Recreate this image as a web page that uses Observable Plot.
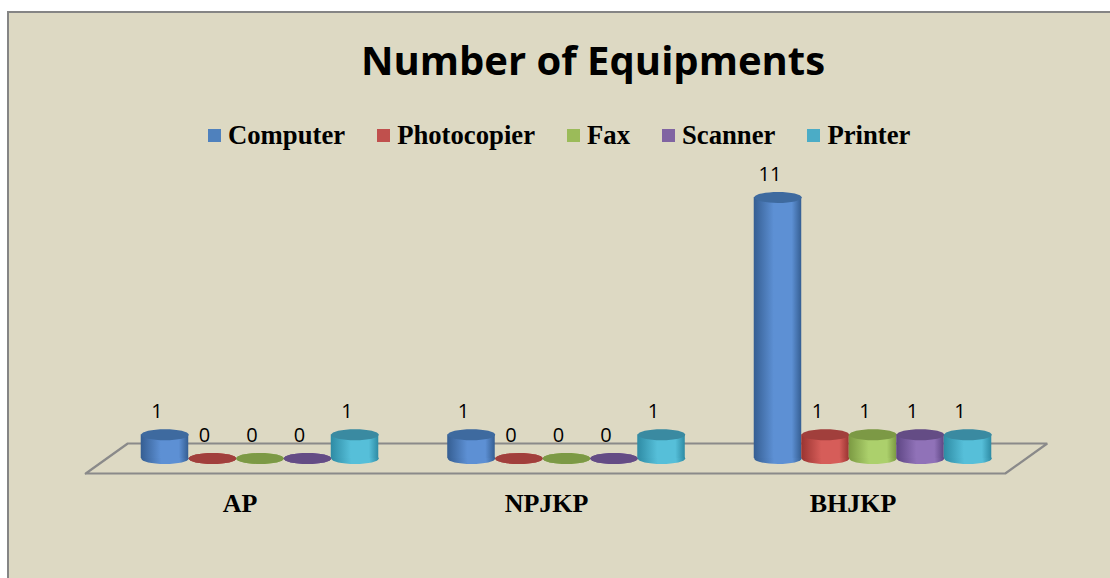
<!DOCTYPE html>
<html><head><meta charset="utf-8">
<script src="https://cdn.jsdelivr.net/npm/d3@7"></script>
<script src="https://cdn.jsdelivr.net/npm/@observablehq/plot@0.6"></script>
<style>
html,body{margin:0;padding:0;background:#fff;}
#wrap{position:absolute;left:7px;top:11px;width:1103px;height:567px;box-sizing:border-box;background:#DDD9C3;border-left:2px solid #858585;border-top:2px solid #858585;overflow:hidden;}
#title{position:absolute;left:67px;right:0;top:27px;text-align:center;font:bold 40px/1 "Open Sans",sans-serif;color:#000;white-space:nowrap;}
#legend{position:absolute;left:199px;top:109px;display:flex;gap:32px;font:bold 26.7px/1 "Liberation Serif",serif;color:#000;white-space:nowrap;}
.item{display:flex;align-items:center;}
.sw{width:13px;height:13px;margin-right:7px;}
#chart{position:absolute;left:0;top:147px;}
#chart svg{overflow:visible;}
</style></head>
<body><div id="wrap"><div id="title">Number of Equipments</div><div id="legend"></div><div id="chart"></div></div>
<script>
// ---- data ----
const categories = ["AP", "NPJKP", "BHJKP"];
const series = ["Computer", "Photocopier", "Fax", "Scanner", "Printer"];
const computer = [1, 1, 11];
const photocopier = [0, 0, 1];
const fax = [0, 0, 1];
const scanner = [0, 0, 1];
const printer = [1, 1, 1];
const seriesValues = [computer, photocopier, fax, scanner, printer];

// ---- styles ----
const colors = ["#4F81BD", "#C0504D", "#9BBB59", "#8064A2", "#4BACC6"];
const darks = ["#355e92", "#9a3431", "#7b9a42", "#5e4684", "#2e8ba4"];
const lights = ["#5d90d4", "#d65d59", "#acd06c", "#9072b8", "#56bfd9"];
const tops = ["#3e6a9f", "#a13f3c", "#7c9945", "#644c85", "#3a8aa1"];

// legend
const legend = document.getElementById("legend");
series.forEach((s, j) => {
  const it = document.createElement("div"); it.className = "item";
  const sw = document.createElement("div"); sw.className = "sw"; sw.style.background = colors[j];
  const tx = document.createElement("span"); tx.textContent = s;
  it.appendChild(sw); it.appendChild(tx); legend.appendChild(it);
});

const xDomain = [-0.5, categories.length - 0.5];
const bw = 0.155;            // bar width in x units
const skew = 0.0685, depth = 0.632; // floor perspective
const floor = [
  [xDomain[0] - skew, -depth], [xDomain[0] + skew, depth],
  [xDomain[1] + skew, depth], [xDomain[1] - skew, -depth], [xDomain[0] - skew, -depth]
];

const ellipse = {
  draw(ctx, size) {
    const rx = Math.sqrt(size / Math.PI), ry = rx * 0.232, k = 0.5523;
    ctx.moveTo(rx, 0);
    ctx.bezierCurveTo(rx, ry * k, rx * k, ry, 0, ry);
    ctx.bezierCurveTo(-rx * k, ry, -rx, ry * k, -rx, 0);
    ctx.bezierCurveTo(-rx, -ry * k, -rx * k, -ry, 0, -ry);
    ctx.bezierCurveTo(rx * k, -ry, rx, -ry * k, rx, 0);
    ctx.closePath();
  }
};

const allRows = [];
const marks = [
  Plot.line(floor, {x: d => d[0], y: d => d[1], stroke: "#8a8a8a", strokeWidth: 2.2, strokeLinejoin: "miter"})
];
seriesValues.forEach((vals, j) => {
  const rows = categories.map((c, i) => ({cat: c, series: series[j], value: vals[i], x: i + (j - 2) * bw}));
  allRows.push(...rows);
  marks.push(
    Plot.dot(rows, {x: "x", y: () => 0, r: 23.75, symbol: ellipse, fill: `url(#g${j})`}),
    Plot.rect(rows, {x1: d => d.x - bw / 2, x2: d => d.x + bw / 2, y1: () => 0, y2: "value", fill: `url(#g${j})`}),
    Plot.dot(rows, {x: "x", y: "value", r: 23.75, symbol: ellipse, fill: tops[j]})
  );
});
marks.push(
  Plot.text(allRows, {x: "x", y: "value", text: d => String(d.value), dy: -23, dx: -8, fontSize: 20, fontFamily: "Open Sans", fill: "#000"}),
  Plot.axisX({ticks: categories.map((c, i) => i), tickFormat: i => categories[i], tickSize: 0, tickPadding: 35, dx: -20,
    label: null, fontSize: 26, fontWeight: "bold", fontFamily: "Liberation Serif", fill: "#000"})
);

const svg = Plot.plot({
  width: 1101, height: 418,
  marginLeft: 97.25, marginRight: 84.25, marginTop: 37, marginBottom: 120,
  x: {domain: xDomain, label: null},
  y: {domain: [0, 11], axis: null},
  style: {background: "transparent", overflow: "visible", color: "#000"},
  marks
});

const defs = d3.select(svg).insert("defs", ":first-child");
series.forEach((s, j) => {
  const g = defs.append("linearGradient").attr("id", `g${j}`).attr("x1", "0").attr("x2", "1").attr("y1", "0").attr("y2", "0");
  g.append("stop").attr("offset", "0").attr("stop-color", darks[j]);
  g.append("stop").attr("offset", "0.42").attr("stop-color", lights[j]);
  g.append("stop").attr("offset", "0.8").attr("stop-color", lights[j]);
  g.append("stop").attr("offset", "1").attr("stop-color", darks[j]);
});
document.getElementById("chart").appendChild(svg);
</script>
</body></html>
